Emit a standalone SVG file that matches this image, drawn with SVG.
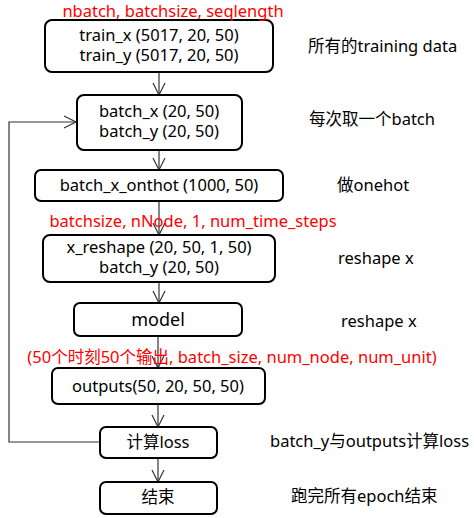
<svg xmlns="http://www.w3.org/2000/svg" width="474" height="518" viewBox="0 0 474 518">
<defs>
<style>
.box{fill:#fff;stroke:#000;stroke-width:2}
.t{font-family:"Noto Sans","Noto Sans CJK SC",sans-serif;font-size:16.5px;fill:#000}
.c{text-anchor:middle}
.red{font-family:"Noto Sans","Noto Sans CJK SC",sans-serif;font-size:16.5px;fill:#ff0000}
.ln{fill:none;stroke:#333;stroke-width:1.2}
</style>
<marker id="ah" markerWidth="16" markerHeight="16" refX="13" refY="7" orient="auto" markerUnits="userSpaceOnUse">
<path d="M1,1 L13,7 L1,13" fill="none" stroke="#333" stroke-width="1.2"/>
</marker>
</defs>
<rect width="474" height="518" fill="#fff"/>
<g id="connectors">
<line class="ln" x1="159" y1="72" x2="159" y2="95" marker-end="url(#ah)"/>
<line class="ln" x1="159" y1="150" x2="159" y2="170" marker-end="url(#ah)"/>
<line class="ln" x1="159" y1="201" x2="159" y2="235" marker-end="url(#ah)"/>
<line class="ln" x1="159" y1="282" x2="159" y2="303" marker-end="url(#ah)"/>
<line class="ln" x1="158" y1="336" x2="158" y2="368" marker-end="url(#ah)"/>
<line class="ln" x1="158" y1="404" x2="158" y2="427" marker-end="url(#ah)"/>
<line class="ln" x1="158" y1="458" x2="158" y2="482" marker-end="url(#ah)"/>
<polyline class="ln" points="100,442 9,442 9,122 76,122" marker-end="url(#ah)"/>
</g>
<g id="n1">
<rect class="box" x="45" y="20" width="228" height="52" rx="7"/>
<text class="t c"><tspan x="159" y="41">train_x (5017, 20, 50)</tspan><tspan x="159" y="61">train_y (5017, 20, 50)</tspan></text>
</g>
<g id="n2">
<rect class="box" x="77" y="95" width="165" height="55" rx="7"/>
<text class="t c"><tspan x="159" y="117">batch_x (20, 50)</tspan><tspan x="159" y="137">batch_y (20, 50)</tspan></text>
</g>
<g id="n3">
<rect class="box" x="35" y="170" width="248" height="31" rx="6"/>
<text class="t c" x="159" y="191">batch_x_onthot (1000, 50)</text>
</g>
<g id="n4">
<rect class="box" x="43" y="235" width="232" height="47" rx="7"/>
<text class="t c"><tspan x="159" y="253">x_reshape (20, 50, 1, 50)</tspan><tspan x="159" y="273">batch_y (20, 50)</tspan></text>
</g>
<g id="n5">
<rect class="box" x="74" y="303" width="168" height="33" rx="6"/>
<text class="t c" x="158" y="326" style="font-size:18px">model</text>
</g>
<g id="n6">
<rect class="box" x="52" y="368" width="213" height="36" rx="6"/>
<text class="t c" x="158" y="392">outputs(50, 20, 50, 50)</text>
</g>
<g id="n7">
<rect class="box" x="100" y="427" width="117" height="31" rx="6"/>
<text class="t c" x="158" y="448">计算loss</text>
</g>
<g id="n8">
<rect class="box" x="100" y="482" width="117" height="32" rx="6"/>
<text class="t c" x="158" y="503">结束</text>
</g>
<g id="labels">
<text class="red c" x="173" y="16.5">nbatch, batchsize, seqlength</text>
<text class="red c" x="193" y="227">batchsize, nNode, 1, num_time_steps</text>
<text class="red c" x="232" y="363">(50个时刻50个输出, batch_size, num_node, num_unit)</text>
<text class="t" x="308" y="52">所有的training data</text>
<text class="t" x="309" y="125">每次取一个batch</text>
<text class="t" x="337" y="191">做onehot</text>
<text class="t" x="338" y="264">reshape x</text>
<text class="t" x="341" y="327">reshape x</text>
<text class="t" x="270" y="447">batch_y与outputs计算loss</text>
<text class="t" x="291" y="502">跑完所有epoch结束</text>
</g>
</svg>
